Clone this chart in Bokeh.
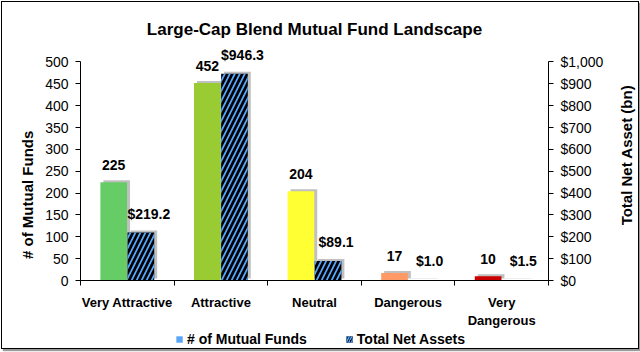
import math
from bokeh.plotting import figure
from bokeh.layouts import column, row
from bokeh.models import (Range1d, LinearAxis, FixedTicker, NumeralTickFormatter,
                          ColumnDataSource, LabelSet, Label, Legend, LegendItem)
from bokeh.core.properties import value
from bokeh.embed import file_html
from bokeh.resources import INLINE

# ---------------- data ----------------
categories = ["Very Attractive", "Attractive", "Neutral", "Dangerous", "Very\nDangerous"]
fund_counts = [225, 452, 204, 17, 10]
net_assets = [219.2, 946.3, 89.1, 1.0, 1.5]
left_ticks = [0, 50, 100, 150, 200, 250, 300, 350, 400, 450, 500]
right_ticks = [0, 100, 200, 300, 400, 500, 600, 700, 800, 900, 1000]
bar_colors = ["#66cc66", "#99cc33", "#ffff33", "#ff9966", "#cc0000"]

# ---------------- layout constants ----------------
TOTAL_W = 636
LT_W, RT_W = 40, 32                 # side strips that carry the axis titles
W, H = TOTAL_W - LT_W - RT_W, 328   # main chart
LEG_H = 18
MB_L, MB_R, MB_T, MB_B = 37, 57, 42, 49
Y1_MAX, Y2_MAX = 540, 1080
FRAME_W = W - MB_L - MB_R
FRAME_H = H - MB_T - MB_B
n = len(categories)
px_x = n / FRAME_W           # data units per pixel (x)
px_y1 = Y1_MAX / FRAME_H     # data units per pixel (left axis)
px_y2 = Y2_MAX / FRAME_H     # data units per pixel (right axis)

FONT = "Liberation Sans"
BAR_W = 0.285
DODGE = 0.145

centers = [i + 0.5 for i in range(n)]
x_count = [c - DODGE for c in centers]
x_asset = [c + DODGE for c in centers]
count_text = [str(v) for v in fund_counts]
asset_text = ["$%.1f" % v for v in net_assets]

src_c = ColumnDataSource(dict(x=x_count, top=fund_counts, color=bar_colors, text=count_text,
                              sx=[v + 3 * px_x for v in x_count],
                              stop=[v + 2 * px_y1 for v in fund_counts]))
src_a = ColumnDataSource(dict(x=x_asset, top=net_assets, text=asset_text,
                              sx=[v + 3 * px_x for v in x_asset],
                              stop=[v + 2 * px_y2 for v in net_assets]))

p = figure(width=W, height=H, x_range=Range1d(0, n), y_range=Range1d(0, Y1_MAX),
           output_backend="svg", toolbar_location=None,
           min_border_left=MB_L, min_border_right=MB_R,
           min_border_top=MB_T, min_border_bottom=MB_B)
p.extra_y_ranges = {"assets": Range1d(0, Y2_MAX)}
p.outline_line_color = None
p.xgrid.visible = False
p.ygrid.visible = False
p.background_fill_color = "white"
p.border_fill_color = "white"

# title
p.title.text = "Large-Cap Blend Mutual Fund Landscape"
p.title.align = "center"
p.title.standoff = 12
p.title.text_font = FONT
p.title.text_font_style = "bold"
p.title.text_font_size = "17px"
p.title.text_color = "black"


def style_value_axis(ax):
    ax.major_tick_in = 0
    ax.major_tick_out = 5
    ax.minor_tick_in = 0
    ax.minor_tick_out = 0
    ax.major_label_standoff = 7
    ax.major_label_text_font = FONT
    ax.major_label_text_font_size = "14px"
    ax.major_label_text_color = "black"
    ax.axis_line_color = "black"
    ax.major_tick_line_color = "black"


# left axis
ya = p.yaxis[0]
ya.ticker = FixedTicker(ticks=left_ticks)
ya.bounds = (0, 500)
style_value_axis(ya)

# right axis
ra = LinearAxis(y_range_name="assets", ticker=FixedTicker(ticks=right_ticks),
                formatter=NumeralTickFormatter(format="$0,0"), bounds=(0, 1000))
style_value_axis(ra)
p.add_layout(ra, "right")

# x axis: labels at centers, tick marks at category boundaries
xa = p.xaxis[0]
xa.ticker = FixedTicker(ticks=centers, minor_ticks=list(range(n + 1)))
xa.major_label_overrides = {c: lab for c, lab in zip(centers, categories)}
xa.major_tick_in = 0
xa.major_tick_out = 0
xa.minor_tick_in = 0
xa.minor_tick_out = 5
xa.minor_tick_line_color = "black"
xa.major_label_standoff = 9
xa.major_label_text_font = FONT
xa.major_label_text_font_style = "bold"
xa.major_label_text_font_size = "13px"
xa.major_label_text_color = "black"
xa.axis_line_color = "black"

# shadows
p.vbar(x="sx", top="stop", bottom=2 * px_y1, width=BAR_W, source=src_c,
       fill_color="#8c8c8c", fill_alpha=0.55, line_color=None)
p.vbar(x="sx", top="stop", bottom=2 * px_y2, width=BAR_W, source=src_a,
       fill_color="#8c8c8c", fill_alpha=0.55, line_color=None, y_range_name="assets")

# bars
p.vbar(x="x", top="top", width=BAR_W, source=src_c, fill_color="color", line_color=None)
p.vbar(x="x", top="top", width=BAR_W, source=src_a, fill_color="black", line_color=None,
       hatch_pattern="/", hatch_color="#55a8ff", hatch_scale=10, hatch_weight=1.7,
       y_range_name="assets")

# value labels
p.add_layout(LabelSet(x="x", y="top", text="text", source=src_c, y_offset=17,
                      text_align="center", text_baseline="middle",
                      text_font=value(FONT), text_font_style="bold", text_font_size="14px",
                      text_color="black"))
p.add_layout(LabelSet(x="x", y="top", text="text", source=src_a, y_offset=19, x_offset=8,
                      y_range_name="assets",
                      text_align="center", text_baseline="middle",
                      text_font=value(FONT), text_font_style="bold", text_font_size="14px",
                      text_color="black"))


def strip(width, height):
    f = figure(width=width, height=height, x_range=Range1d(0, 1), y_range=Range1d(0, Y1_MAX),
               output_backend="svg", toolbar_location=None, x_axis_type=None,
               y_axis_type=None, min_border_left=0, min_border_right=0,
               min_border_top=0, min_border_bottom=0)
    f.outline_line_color = None
    f.xgrid.visible = False
    f.ygrid.visible = False
    f.border_fill_color = "white"
    f.background_fill_color = "white"
    return f


# axis titles in side strips (same y scale as the chart)
lt = strip(LT_W, H)
lt.add_layout(Label(x=25 / LT_W, y=196, angle=math.pi / 2, text="# of Mutual Funds",
                    text_align="center", text_baseline="middle", text_font=FONT,
                    text_font_style="bold", text_font_size="15px", text_color="black"))
rt = strip(RT_W, H)
rt.add_layout(Label(x=20 / RT_W, y=287, angle=math.pi / 2, text="Total Net Asset (bn)",
                    text_align="center", text_baseline="middle", text_font=FONT,
                    text_font_style="bold", text_font_size="15px", text_color="black"))

# legend strip below the chart
lf = strip(TOTAL_W, LEG_H)
proxy = ColumnDataSource(dict(x=[0.5], top=[float("nan")]))
r_leg1 = lf.vbar(x="x", top="top", width=0.1, source=proxy, fill_color="#5aa5f5", line_color=None)
r_leg2 = lf.vbar(x="x", top="top", width=0.1, source=proxy, fill_color="black", line_color=None,
                 hatch_pattern="/", hatch_color="#55a8ff", hatch_scale=5, hatch_weight=1.5)
legend = Legend(items=[LegendItem(label="# of Mutual Funds", renderers=[r_leg1]),
                       LegendItem(label="Total Net Assets", renderers=[r_leg2])],
                orientation="horizontal", location="center", margin=0, padding=0,
                glyph_width=8, glyph_height=8, label_standoff=4, spacing=38,
                label_text_font=FONT, label_text_font_style="bold",
                label_text_font_size="14px", label_text_color="black",
                background_fill_alpha=0, border_line_color=None)
lf.add_layout(legend, "center")

layout = column(row(lt, p, rt, spacing=0), lf, spacing=0,
                styles={"margin": "1px", "border": "1px solid #000000",
                        "box-shadow": "2px 2px 1px #9a9a9a", "background-color": "white"})

open("out.html", "w").write(file_html(layout, INLINE))
